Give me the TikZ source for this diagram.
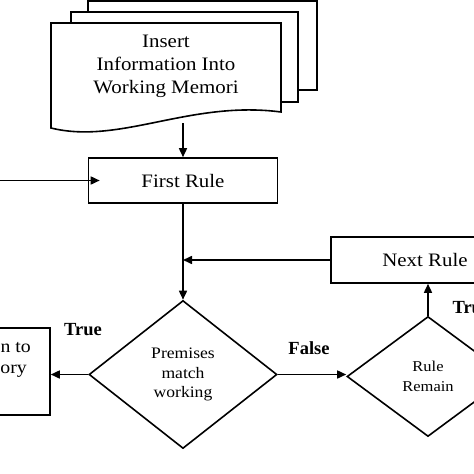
\documentclass[tikz,border=0pt]{standalone}
\usepackage{fontspec}
\setmainfont{Liberation Serif}
\newfontfamily\bodyfont[FakeStretch=1.1]{Liberation Serif}
\usetikzlibrary{arrows.meta,calc,shapes.geometric}
\tikzset{
  arr/.style={line width=1.6pt,-{Triangle[length=9pt,width=8pt]}},
  box/.style={draw,line width=1.6pt,rectangle,inner sep=0pt,fill=white},
  dia/.style={draw,line width=1.6pt,diamond,inner sep=0pt,align=center,font=\bodyfont\fontsize{16}{19.5}\selectfont},
  big/.style={font=\bodyfont\fontsize{19}{23}\selectfont,align=center},
  lbl/.style={font=\bfseries\fontsize{18.5}{22}\selectfont},
  sheet/.style={draw,line width=1.6pt,fill=white}
}
\begin{document}
\begin{tikzpicture}[x=1pt,y=-1pt]
\useasboundingbox (0,0) rectangle (474,474);
\clip (0,0) rectangle (474,474);
% document stack
\draw[sheet] (88,1) rectangle (317,90);
\draw[sheet] (71,12) rectangle (298,102);
\draw[sheet] (51,23) -- (281,23) -- (281,112) .. controls (190,100) and (120,145) .. (51,128) -- cycle;
\node[big] (doc) at (166,66) {Insert\\Information Into\\Working Memori};
\coordinate (docbot) at (183,123);
% boxes
\node[box,big,minimum width=189pt,minimum height=45pt] (first) at (183,180.5) {First Rule};
\node[box,big,minimum width=188pt,minimum height=46pt] (next) at (425,260) {Next Rule};
\node[box,minimum width=110pt,minimum height=87pt] (lbox) at (-5,371.5) {};
\node[big,font=\bodyfont\fontsize{18}{22}\selectfont,anchor=east,inner sep=0pt] (lt1) at (31,348) {n to};
\node[big,font=\bodyfont\fontsize{18}{22}\selectfont,anchor=east,inner sep=0pt] (lt2) at (27,371) {ory};
% diamonds
\node[dia,minimum width=188pt,minimum height=148pt] (prem) at (183,374.5) {Premises\\match\\working};
\node[dia,font=\bodyfont\fontsize{15}{20}\selectfont,minimum width=162pt,minimum height=120pt] (rr) at (428,376.5) {Rule\\Remain};
% connectors
\coordinate (lin) at (0,182);
\coordinate (lend) at ($(first.west)+(12,0)$);
\draw[arr] (docbot) -- (docbot |- first.north);
\draw[arr] (lin |- lend) -- (lend);
\draw[arr] (first.south) -- (prem.north);
\draw[arr] (next.west) -- (next.west -| first.south);
\draw[arr] (prem.west) -- (prem.west -| lbox.east);
\draw[arr] (prem.east) -- (prem.east -| rr.west);
\draw[arr] (rr.north) -- (rr.north |- next.south);
% labels
\node[lbl] (ltrue) at (83,330) {True};
\node[lbl] (lfalse) at (309,348) {False};
\node[lbl,anchor=west] (rtrue) at (449,308) {True};
\end{tikzpicture}
\end{document}
